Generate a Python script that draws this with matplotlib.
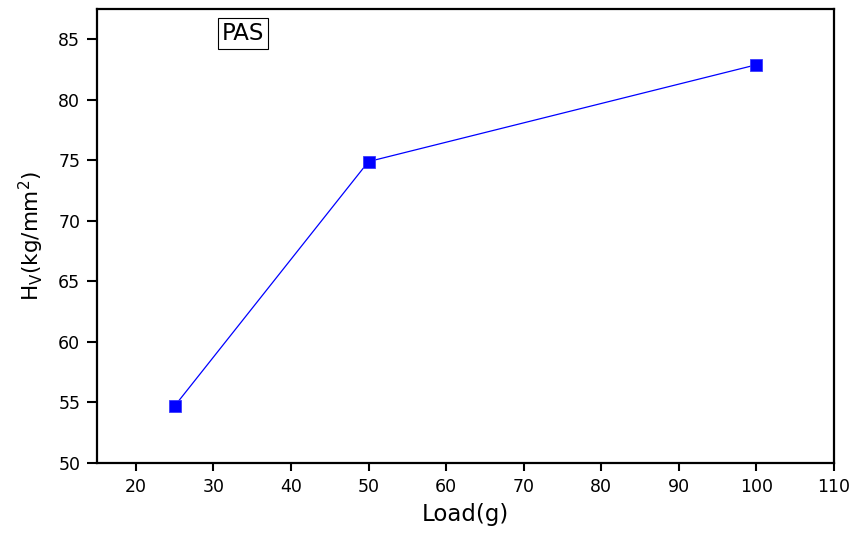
import matplotlib
matplotlib.use("Agg")
import matplotlib.pyplot as plt
from matplotlib.ticker import MultipleLocator

plt.rcParams['font.family'] = ['DejaVu Sans']
plt.rcParams['mathtext.fontset'] = 'dejavusans'

load = [25, 50, 100]
hv = [54.7, 74.9, 82.9]

fig = plt.figure(figsize=(8.53, 5.34), dpi=100)
ax = fig.add_axes([0.1137, 0.133, 0.864, 0.850])

ax.plot(load, hv, color='#0000ff', linewidth=0.9, marker='s', markersize=8.5,
        markerfacecolor='#0000ff', markeredgecolor='#3a3aff', markeredgewidth=0.6)

ax.set_xlim(15, 110)
ax.set_ylim(50, 87.5)
ax.set_xticks(list(range(20, 111, 10)))
ax.yaxis.set_major_locator(MultipleLocator(5))

for s in ax.spines.values():
    s.set_linewidth(1.6)

ax.tick_params(axis='y', which='major', direction='out', length=7, width=1.5,
               labelsize=12.5, pad=5)
ax.tick_params(axis='x', which='major', direction='out', length=5.5, width=1.5,
               labelsize=12.5, pad=5)

ax.set_xlabel('Load(g)', fontsize=16.5, labelpad=5)
ax.set_ylabel(r'H$_\mathregular{V}$(kg/mm$^\mathregular{2}$)', fontsize=15.5, labelpad=9)

ax.text(0.198, 0.947, 'PAS', transform=ax.transAxes, fontsize=16.5, ha='center', va='center',
        bbox=dict(boxstyle='square,pad=0.18', facecolor='white', edgecolor='black', linewidth=0.8))

fig.savefig('out.png', dpi=100)
